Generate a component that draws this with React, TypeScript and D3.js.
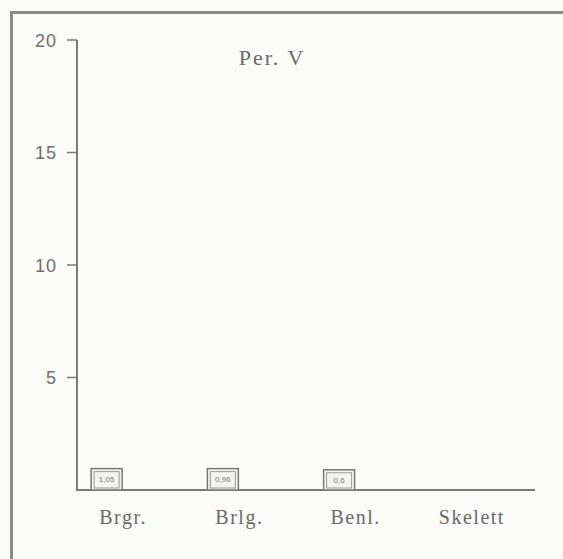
import React from "react";
import * as d3 from "d3";

const categories = ["Brgr.", "Brlg.", "Benl.", "Skelett"];
const values = [0.95, 0.95, 0.9, 0];
const barLabels = ["1,05", "0,96", "0,6", ""];
const yTicks = [5, 10, 15, 20];
const title = "Per. V";

const W = 563;
const H = 559;

export default function App() {
  const y = d3.scaleLinear().domain([0, 20]).range([490, 40]);
  const x = d3.scaleBand<string>().domain(categories).range([65, 530]).padding(0);
  const ink = "#7a7a7a";
  const axisX = 77;
  const base = y(0);
  return (
    <svg width={W} height={H} style={{ position: "absolute", left: 0, top: 0, background: "#fbfbf9" }}>
      {/* frame */}
      <line x1={11.5} y1={12} x2={11.5} y2={H} stroke="#8a8a8a" strokeWidth={3} />
      <line x1={10} y1={12.5} x2={W} y2={12.5} stroke="#8a8a8a" strokeWidth={3} />
      {/* y axis */}
      <line x1={axisX} y1={y(20)} x2={axisX} y2={base + 1} stroke={ink} strokeWidth={2} />
      {yTicks.map((t) => (
        <g key={t}>
          <line x1={axisX - 10} x2={axisX} y1={y(t)} y2={y(t)} stroke={ink} strokeWidth={1.5} />
          <text x={57} y={y(t) + 6.5} textAnchor="end" fontFamily="Liberation Sans, sans-serif" fontSize={18} letterSpacing={1} fill="#6f6f6f">
            {t}
          </text>
        </g>
      ))}
      {/* x axis */}
      <line x1={axisX - 1} x2={535} y1={base} y2={base} stroke={ink} strokeWidth={2} />
      {categories.map((c, i) => {
        const cx = (x(c) as number) + x.bandwidth() / 2;
        const v = values[i];
        const top = y(v);
        return (
          <g key={c}>
            {v > 0 && (
              <g>
                <rect x={cx - 32} y={top} width={31} height={base - top} fill="#f4f4f2" stroke={ink} strokeWidth={1.5} />
                <rect x={cx - 29} y={top + 3} width={25} height={base - top - 5} fill="none" stroke="#9a9a9a" strokeWidth={1} />
                <text x={cx - 16.5} y={top + 13} textAnchor="middle" fontFamily="Liberation Sans, sans-serif" fontSize={8} fill="#777">
                  {barLabels[i]}
                </text>
              </g>
            )}
            <text x={cx} y={base + 34} textAnchor="middle" fontFamily="Liberation Serif, serif" fontSize={20} letterSpacing={1.5} fill="#6a6a6a">
              {c}
            </text>
          </g>
        );
      })}
      <text x={272} y={65} textAnchor="middle" fontFamily="Liberation Serif, serif" fontSize={22} letterSpacing={2} fill="#6a6a6a">
        {title}
      </text>
    </svg>
  );
}
